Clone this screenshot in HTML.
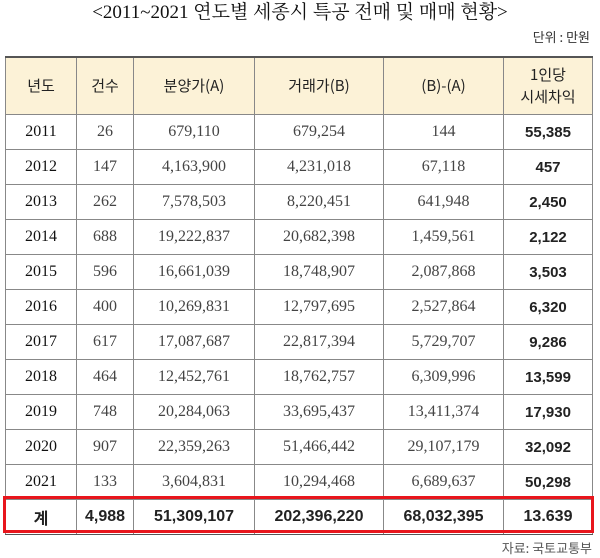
<!DOCTYPE html>
<html><head><meta charset="utf-8">
<style>
body{margin:0;width:600px;height:558px;background:#fff;position:relative;overflow:hidden;font-family:"Liberation Serif","Noto Serif CJK KR","Noto Serif CJK SC",serif;color:#222}
.title{position:absolute;top:0;left:0;width:600px;text-align:center;font-size:19px;line-height:26px;font-family:"Liberation Serif","Noto Serif CJK KR",serif;color:#111}
.unit{position:absolute;top:27px;right:10px;font-size:13px;font-family:"Noto Sans CJK KR",sans-serif;color:#333}
table{position:absolute;left:5px;top:56px;border-collapse:collapse;table-layout:fixed}
td{border:1px solid #888;text-align:center;font-size:16px;height:34px;padding:0;color:#444}
tr.head td{background:#fcf2d7;height:56px;font-family:"Noto Sans CJK KR",sans-serif;font-size:15px;color:#222;line-height:22px;border-top:2px solid #555}
td.y{color:#111}
td.b{font-weight:bold;color:#222;font-family:"Liberation Sans","Noto Sans CJK KR",sans-serif;font-size:15px}
tr.tot td{font-weight:bold;color:#222;font-family:"Liberation Sans","Noto Sans CJK KR",sans-serif;font-size:16px;border-bottom:1px solid #555}
.red{position:absolute;left:3px;top:496px;width:585px;height:31px;border:3px solid #e8151c}
.src{position:absolute;right:8px;top:538px;font-size:13px;font-family:"Noto Sans CJK KR",sans-serif;color:#555}
</style></head><body>
<div class="title">&lt;2011~2021 연도별 세종시 특공 전매 및 매매 현황&gt;</div>
<div class="unit">단위 : 만원</div>
<table>
<colgroup><col style="width:71px"><col style="width:57px"><col style="width:121px"><col style="width:129px"><col style="width:120px"><col style="width:89px"></colgroup>
<tr class="head"><td>년도</td><td>건수</td><td>분양가(A)</td><td>거래가(B)</td><td>(B)-(A)</td><td>1인당<br>시세차익</td></tr>
<tr><td class="y">2011</td><td>26</td><td>679,110</td><td>679,254</td><td>144</td><td class="b">55,385</td></tr>
<tr><td class="y">2012</td><td>147</td><td>4,163,900</td><td>4,231,018</td><td>67,118</td><td class="b">457</td></tr>
<tr><td class="y">2013</td><td>262</td><td>7,578,503</td><td>8,220,451</td><td>641,948</td><td class="b">2,450</td></tr>
<tr><td class="y">2014</td><td>688</td><td>19,222,837</td><td>20,682,398</td><td>1,459,561</td><td class="b">2,122</td></tr>
<tr><td class="y">2015</td><td>596</td><td>16,661,039</td><td>18,748,907</td><td>2,087,868</td><td class="b">3,503</td></tr>
<tr><td class="y">2016</td><td>400</td><td>10,269,831</td><td>12,797,695</td><td>2,527,864</td><td class="b">6,320</td></tr>
<tr><td class="y">2017</td><td>617</td><td>17,087,687</td><td>22,817,394</td><td>5,729,707</td><td class="b">9,286</td></tr>
<tr><td class="y">2018</td><td>464</td><td>12,452,761</td><td>18,762,757</td><td>6,309,996</td><td class="b">13,599</td></tr>
<tr><td class="y">2019</td><td>748</td><td>20,284,063</td><td>33,695,437</td><td>13,411,374</td><td class="b">17,930</td></tr>
<tr><td class="y">2020</td><td>907</td><td>22,359,263</td><td>51,466,442</td><td>29,107,179</td><td class="b">32,092</td></tr>
<tr><td class="y">2021</td><td>133</td><td>3,604,831</td><td>10,294,468</td><td>6,689,637</td><td class="b">50,298</td></tr>
<tr class="tot"><td>계</td><td>4,988</td><td>51,309,107</td><td>202,396,220</td><td>68,032,395</td><td>13.639</td></tr>
</table>
<div class="red"></div>
<div class="src">자료: 국토교통부</div>
</body></html>
